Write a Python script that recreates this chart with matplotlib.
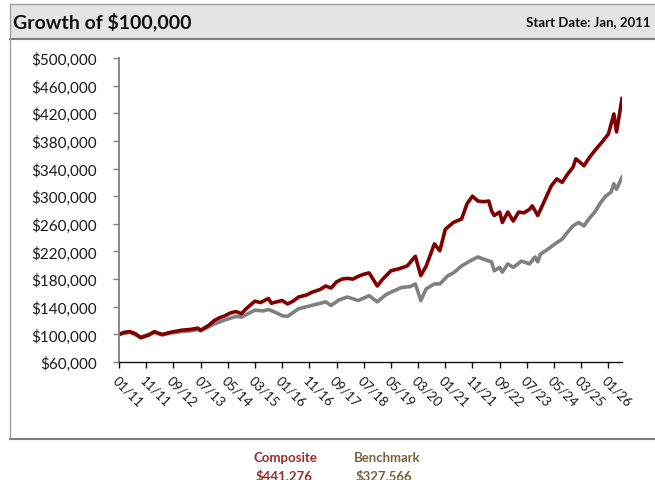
import matplotlib.pyplot as plt
from matplotlib.lines import Line2D
from matplotlib.patches import Rectangle

plt.rcParams['font.family'] = ['Lato', 'DejaVu Sans']

# month index (0 = Jan 2011) and growth values
comp_months = [0, 2, 4, 6, 8, 11, 13, 15, 16, 19, 23, 26, 29, 30, 33, 35, 37, 39, 41,
               43, 45, 47, 50, 52, 55, 56, 58, 60, 62, 64, 66, 69, 71, 74, 76, 78, 80,
               82, 84, 86, 88, 90, 92, 95, 97, 100, 103, 106, 109, 111, 113, 116, 118,
               120, 123, 126, 128, 130, 132, 134, 136, 137, 138, 140, 141, 143, 145,
               147, 149, 151, 152, 154, 156, 159, 161, 163, 165, 167, 168, 169, 171,
               173, 175, 178, 180, 182, 183, 185]
composite = [100000, 103000, 104000, 101000, 95000, 99000, 104000, 101000, 100000,
             103000, 106000, 107000, 109000, 106000, 113000, 120000, 124000, 127000,
             131000, 133000, 130000, 138000, 148000, 146000, 152000, 145000, 147000,
             149000, 144000, 148000, 154000, 157000, 161000, 165000, 170000, 167000,
             176000, 180000, 181000, 180000, 184000, 187000, 189000, 170000, 180000,
             192000, 195000, 199000, 213000, 185000, 199000, 231000, 221000, 252000,
             262000, 267000, 289000, 300000, 293000, 292000, 293000, 279000, 272000,
             277000, 262000, 277000, 264000, 277000, 276000, 281000, 286000, 272000,
             289000, 315000, 325000, 320000, 332000, 342000, 354000, 351000, 344000,
             356000, 366000, 380000, 390000, 419000, 393000, 441276]

bench_months = [0, 4, 8, 13, 16, 19, 23, 26, 29, 30, 35, 39, 43, 45, 50, 53, 55, 58,
                60, 62, 66, 71, 76, 78, 81, 84, 88, 92, 95, 98, 100, 104, 107, 109, 111,
                113, 116, 118, 121, 123, 126, 129, 132, 134, 137, 138, 140, 141, 143,
                145, 148, 151, 153, 154, 155, 158, 160, 163, 165, 167, 169, 171, 173,
                175, 177, 179, 181, 182, 183, 185]
benchmark = [100000, 103000, 96000, 103000, 99000, 102000, 104000, 105000, 107000,
             105000, 115000, 121000, 126000, 125000, 135000, 134000, 136000, 131000,
             127000, 126000, 137000, 142000, 147000, 142000, 150000, 154000, 149000,
             156000, 147000, 157000, 161000, 168000, 169000, 173000, 149000, 166000,
             173000, 173000, 185000, 189000, 199000, 206000, 212000, 209000, 205000,
             192000, 197000, 190000, 202000, 197000, 206000, 202000, 212000, 205000,
             216000, 224000, 230000, 238000, 248000, 257000, 262000, 257000, 268000,
             277000, 290000, 300000, 306000, 318000, 310000, 327566]

tick_months = list(range(0, 181, 10))
tick_labels = ['01/11', '11/11', '09/12', '07/13', '05/14', '03/15', '01/16', '11/16',
               '09/17', '07/18', '05/19', '03/20', '01/21', '11/21', '09/22', '07/23',
               '05/24', '03/25', '01/26']
yticks = list(range(60000, 500001, 40000))

fig = plt.figure(figsize=(6.55, 4.81), dpi=100)

# header band and frame
fig.patches.append(Rectangle((10/655, 1-40/481), 1, 35/481, transform=fig.transFigure,
                             facecolor='#e4e4e4', edgecolor='none'))
fig.lines.append(Line2D([10/655, 1], [1-5/481, 1-5/481], transform=fig.transFigure,
                        color='#a0a0a0', lw=1))
fig.lines.append(Line2D([10/655, 1], [1-40/481, 1-40/481], transform=fig.transFigure,
                        color='#808080', lw=1.5))
fig.lines.append(Line2D([10/655, 10/655], [1-440/481, 1-5/481], transform=fig.transFigure,
                        color='#a0a0a0', lw=1))
fig.lines.append(Line2D([10/655, 1], [1-440/481, 1-440/481], transform=fig.transFigure,
                        color='#808080', lw=1.5))
fig.text(13/655, 1-22/481, 'Growth of $100,000', fontsize=14, fontweight='bold',
         va='center', ha='left', color='#111111')
fig.text(651/655, 1-22/481, 'Start Date: Jan, 2011', fontsize=9.5, fontweight='bold',
         va='center', ha='right', color='#111111')

ax = fig.add_axes([119/655, 1-363/481, (622-119)/655, (363-59)/481])
ax.plot(bench_months, benchmark, color='#808080', lw=2.6, solid_joinstyle='round')
ax.plot(comp_months, composite, color='#800000', lw=2.6, solid_joinstyle='round')

ax.set_xlim(0, 185)
ax.set_ylim(60000, 500000)
ax.set_yticks(yticks)
ax.set_yticklabels([f'${v:,.0f}' for v in yticks], fontsize=11, color='#1a1a1a')
ax.set_xticks(tick_months)
ax.set_xticklabels(tick_labels, rotation=-45, ha='left', va='top', rotation_mode='anchor',
                   fontsize=9.5, color='#1a1a1a')

for s in ['top', 'right']:
    ax.spines[s].set_visible(False)
ax.spines['left'].set_color('#808080')
ax.spines['left'].set_linewidth(1.3)
ax.spines['bottom'].set_color('#111111')
ax.spines['bottom'].set_linewidth(1.0)
ax.tick_params(axis='y', length=4, color='#808080', width=1, pad=12)
ax.tick_params(axis='x', length=4, color='#111111', width=1, pad=4)

# legend text at bottom
fig.text(285/655, 1-458/481, 'Composite', fontsize=9.5, fontweight='bold', color='#9b2a2a',
         ha='center', va='center')
fig.text(284/655, 1-476/481, '$441,276', fontsize=9.5, fontweight='bold', color='#9b2a2a',
         ha='center', va='center')
fig.text(387/655, 1-458/481, 'Benchmark', fontsize=9.5, fontweight='bold', color='#7a6339',
         ha='center', va='center')
fig.text(384/655, 1-476/481, '$327,566', fontsize=9.5, fontweight='bold', color='#7a6339',
         ha='center', va='center')

fig.savefig('out.png', dpi=100)
